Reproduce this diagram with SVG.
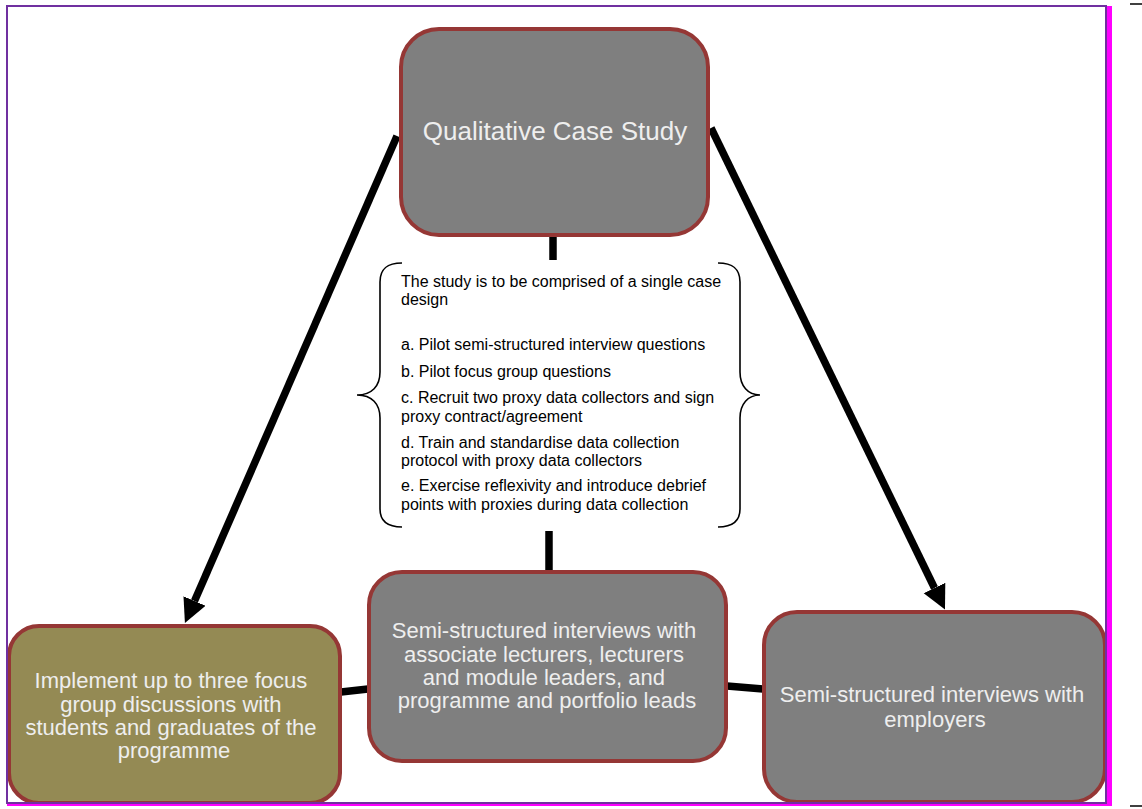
<svg xmlns="http://www.w3.org/2000/svg" width="1142" height="809" viewBox="0 0 1142 809">
  <style>
    .box { stroke: #953735; stroke-width: 4; }
    .grey { fill: #7f7f7f; }
    .olive { fill: #948a54; }
    .label { font-family: "Liberation Sans", Arial, sans-serif; fill: #eeeeee; text-anchor: middle; }
    .note { font-family: "Liberation Sans", Arial, sans-serif; font-size: 16px; fill: #000000; }
    .conn { stroke: #000000; stroke-width: 7.5; fill: none; }
    .brace { stroke: #000000; stroke-width: 1.6; fill: none; }
  </style>
  <defs>
    <marker id="head" markerUnits="userSpaceOnUse" markerWidth="26" markerHeight="26" refX="0" refY="12" orient="auto">
      <path d="M0,0 L24,12 L0,24 Z" fill="#000000"/>
    </marker>
  </defs>

  <rect x="0" y="0" width="1142" height="809" fill="#ffffff"/>

  <!-- connectors -->
  <g id="connectors">
    <line class="conn" x1="397" y1="136" x2="194.5" y2="601" marker-end="url(#head)"/>
    <line class="conn" x1="711" y1="128" x2="934.5" y2="588" marker-end="url(#head)"/>
    <line class="conn" x1="553" y1="236" x2="553" y2="260"/>
    <line class="conn" x1="549" y1="531" x2="549" y2="571"/>
    <line class="conn" x1="341" y1="692" x2="368" y2="689"/>
    <line class="conn" x1="727" y1="686" x2="763" y2="689"/>
  </g>

  <!-- top node -->
  <g id="node-case-study">
    <rect class="box grey" x="401" y="29" width="307" height="206" rx="38"/>
    <text class="label" x="555" y="140" font-size="26">Qualitative Case Study</text>
  </g>

  <!-- bracketed design notes -->
  <g id="node-design-notes">
    <path class="brace" d="M402,263 C388,263 380,268 380,282 L380,372 C380,386 372,395 357,395 C372,395 380,404 380,418 L380,509 C380,522 388,527 402,527"/>
    <path class="brace" d="M718,263 C732,263 740,268 740,282 L740,372 C740,386 748,395 760,395 C748,395 740,404 740,418 L740,509 C740,522 732,527 718,527"/>
    <text class="note" x="401" y="287">The study is to be comprised of a single case</text>
    <text class="note" x="401" y="305">design</text>
    <text class="note" x="401" y="350">a. Pilot semi-structured interview questions</text>
    <text class="note" x="401" y="377">b. Pilot focus group questions</text>
    <text class="note" x="401" y="403">c. Recruit two proxy data collectors and sign</text>
    <text class="note" x="401" y="422">proxy contract/agreement</text>
    <text class="note" x="401" y="448">d. Train and standardise data collection</text>
    <text class="note" x="401" y="466">protocol with proxy data collectors</text>
    <text class="note" x="401" y="491">e. Exercise reflexivity and introduce debrief</text>
    <text class="note" x="401" y="510">points with proxies during data collection</text>
  </g>

  <!-- focus group node -->
  <g id="node-focus-groups">
    <rect class="box olive" x="9" y="626" width="331" height="177" rx="30"/>
    <text class="label" font-size="22">
      <tspan x="174" y="688">Implement up to three focus</tspan>
      <tspan x="174" y="712">group discussions with</tspan>
      <tspan x="174" y="735">students and graduates of the</tspan>
      <tspan x="174" y="758">programme</tspan>
    </text>
  </g>

  <!-- staff interviews node -->
  <g id="node-staff-interviews">
    <rect class="box grey" x="369" y="572" width="357" height="189" rx="33"/>
    <text class="label" font-size="22">
      <tspan x="547" y="638">Semi-structured interviews with</tspan>
      <tspan x="547" y="662">associate lecturers, lecturers</tspan>
      <tspan x="547" y="685">and module leaders, and</tspan>
      <tspan x="547" y="708">programme and portfolio leads</tspan>
    </text>
  </g>

  <!-- employer interviews node -->
  <g id="node-employer-interviews">
    <rect class="box grey" x="764" y="612" width="341" height="190" rx="33"/>
    <text class="label" font-size="22">
      <tspan x="935" y="702">Semi-structured interviews with</tspan>
      <tspan x="935" y="727">employers</tspan>
    </text>
  </g>

  <!-- page frame -->
  <g id="frame">
    <rect x="1106" y="6" width="6" height="800" fill="#ff00ff"/>
    <rect x="7" y="803" width="1105" height="3" fill="#ff00ff"/>
    <rect x="7" y="6" width="1099" height="797" fill="none" stroke="#7030a0" stroke-width="2"/>
    <line x1="1130" y1="4" x2="1142" y2="4" stroke="#000000" stroke-width="1.5"/>
    <line x1="1130" y1="806" x2="1142" y2="806" stroke="#000000" stroke-width="1.5"/>
  </g>
</svg>
